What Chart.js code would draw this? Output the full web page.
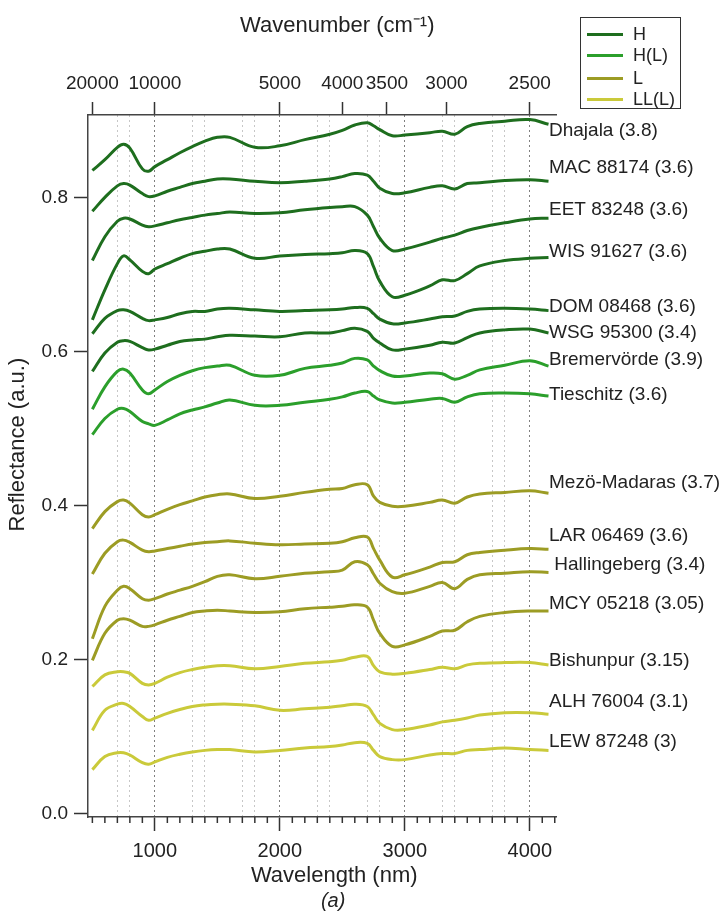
<!DOCTYPE html>
<html>
<head>
<meta charset="utf-8">
<title>Reflectance spectra</title>
<script src="https://cdn.jsdelivr.net/npm/chart.js@4.4.0/dist/chart.umd.min.js"></script>
<style>
  body { margin: 0; background: #fff; }
  #wrap { position: relative; width: 724px; height: 916px; }
  #legend {
    position: absolute; left: 580px; top: 17px; width: 101px; height: 92px;
    border: 1.5px solid #333; box-sizing: border-box; background: #fff;
    font: 18px "Liberation Sans", Arial, sans-serif; color: #222;
  }
  .item { position: absolute; left: 0; height: 22px; line-height: 22px; }
  .item i { position: absolute; left: 6px; top: 10px; width: 36px; height: 3px; }
  .item span { position: absolute; left: 52px; top: 0; white-space: nowrap; }
</style>
</head>
<body>
<div id="wrap">
  <canvas id="spectra" width="724" height="916"></canvas>
  <div id="legend"></div>
</div>
<script>
// wavelengths (nm) at which every spectrum was read
const wl = [500, 600, 700, 750, 800, 900, 950, 1000, 1100, 1200, 1300, 1400, 1500, 1600, 1800, 2000,
  2200, 2400, 2500, 2600, 2700, 2750, 2800, 2900, 3000, 3200, 3300, 3400, 3500, 3600, 3800, 4000, 4150];

// reflectance, top to bottom
const dhajala = [.835,.849,.865,.869,.864,.837,.834,.840,.849,.858,.866,.873,.878,.878,.865,.867,.875,.882,.887,.894,.897,.893,.888,.880,.881,.884,.886,.882,.892,.896,.899,.901,.895];
const mac88174 = [.782,.800,.815,.818,.816,.805,.801,.802,.808,.813,.818,.821,.824,.824,.821,.819,.821,.824,.827,.831,.829,.821,.812,.805,.806,.813,.815,.811,.818,.819,.822,.823,.821];
const eet83248 = [.718,.749,.769,.773,.772,.764,.762,.763,.767,.771,.774,.777,.779,.781,.779,.780,.784,.787,.788,.788,.777,.762,.747,.731,.733,.742,.747,.751,.757,.761,.767,.772,.773];
const wis91627 = [.641,.680,.714,.724,.719,.704,.701,.707,.714,.721,.727,.730,.733,.733,.721,.724,.726,.727,.728,.731,.727,.710,.691,.671,.673,.685,.693,.692,.701,.711,.718,.721,.722];
const dom08468 = [.623,.643,.653,.654,.652,.643,.640,.641,.644,.649,.652,.652,.655,.656,.654,.652,.653,.654,.655,.657,.656,.649,.642,.636,.637,.642,.645,.646,.652,.655,.656,.655,.653];
const wsg95300 = [.574,.598,.612,.614,.613,.605,.602,.603,.608,.613,.615,.616,.619,.621,.620,.619,.624,.624,.627,.630,.626,.617,.611,.602,.603,.608,.612,.611,.618,.624,.628,.629,.624];
const bremervoerde = [.525,.554,.574,.577,.572,.550,.545,.550,.561,.569,.575,.579,.581,.582,.569,.569,.578,.582,.585,.591,.589,.581,.575,.568,.568,.572,.571,.564,.569,.576,.582,.588,.581];
const tieschitz = [.492,.513,.525,.526,.522,.509,.506,.504,.511,.519,.524,.528,.533,.537,.530,.530,.534,.538,.541,.546,.548,.542,.537,.533,.534,.538,.539,.534,.541,.545,.546,.545,.542];
const mezoMadaras = [.370,.392,.405,.407,.403,.388,.385,.388,.395,.401,.406,.411,.414,.415,.409,.412,.417,.421,.422,.427,.427,.412,.404,.399,.399,.404,.407,.403,.411,.415,.417,.419,.416];
const lar06469 = [.311,.338,.353,.355,.352,.342,.340,.341,.344,.347,.350,.352,.353,.354,.351,.349,.350,.351,.353,.358,.359,.344,.329,.307,.310,.320,.326,.327,.336,.339,.342,.344,.343];
const hallingeberg = [.227,.269,.290,.295,.292,.279,.277,.279,.285,.290,.295,.301,.308,.310,.305,.308,.312,.314,.316,.327,.323,.311,.299,.288,.286,.295,.300,.292,.304,.310,.312,.314,.313];
const mcy05218 = [.199,.234,.251,.253,.251,.243,.243,.245,.251,.256,.261,.263,.264,.263,.261,.262,.266,.268,.269,.271,.268,.251,.234,.217,.219,.230,.237,.238,.249,.256,.261,.263,.263];
const bishunpur = [.165,.180,.184,.184,.182,.169,.167,.169,.177,.183,.187,.190,.192,.192,.188,.191,.195,.197,.199,.203,.204,.192,.184,.181,.182,.187,.190,.188,.193,.195,.196,.196,.193];
const alh76004 = [.108,.134,.142,.143,.139,.126,.121,.124,.130,.135,.139,.141,.142,.142,.140,.134,.136,.138,.140,.142,.139,.128,.117,.109,.109,.115,.119,.121,.124,.128,.131,.131,.129];
const lew87248 = [.057,.074,.079,.079,.076,.066,.064,.067,.073,.077,.080,.082,.083,.083,.080,.082,.085,.087,.089,.092,.091,.082,.074,.070,.070,.076,.078,.078,.082,.083,.085,.083,.082];

const series = [dhajala, mac88174, eet83248, wis91627, dom08468, wsg95300, bremervoerde, tieschitz,
  mezoMadaras, lar06469, hallingeberg, mcy05218, bishunpur, alh76004, lew87248];
const names = ['Dhajala (3.8)', 'MAC 88174 (3.6)', 'EET 83248 (3.6)', 'WIS 91627 (3.6)', 'DOM 08468 (3.6)',
  'WSG 95300 (3.4)', 'Bremervörde (3.9)', 'Tieschitz (3.6)', 'Mezö-Madaras (3.7)', 'LAR 06469 (3.6)',
  ' Hallingeberg (3.4)', 'MCY 05218 (3.05)', 'Bishunpur (3.15)', 'ALH 76004 (3.1)', 'LEW 87248 (3)'];
const groups = ['H', 'H', 'H', 'H', 'H', 'H', 'H(L)', 'H(L)', 'L', 'L', 'L', 'L', 'LL(L)', 'LL(L)', 'LL(L)'];
// reflectance level at which each name is written
const labelAt = [.887, .838, .784, .730, .658, .624, .589, .544, .430, .361, .323, .273, .199, .145, .093];

const groupNames = ['H', 'H(L)', 'L', 'LL(L)'];
const groupColors = { 'H': '#1e6e1e', 'H(L)': '#2b9f2b', 'L': '#9c9c24', 'LL(L)': '#caca3a' };

const yTicks = [0, 0.2, 0.4, 0.6, 0.8];
const wnTicks = [20000, 10000, 5000, 4000, 3500, 3000, 2500];   // cm-1
const gridMajor = [1000, 2000, 3000, 4000];
const gridMinor = [700, 800, 1300, 1400, 1700, 1800, 2300, 2400, 2700, 2800, 3300, 3400, 3700, 3800];
const xTickVals = [];
for (let v = 500; v <= 4200; v += 100) xTickVals.push(v);

Chart.defaults.font.family = '"Liberation Sans", Arial, sans-serif';
Chart.defaults.color = '#222';

// legend box
const legend = document.getElementById('legend');
const legendTops = [5, 26, 49, 70];
groupNames.forEach((g, i) => {
  const d = document.createElement('div');
  d.className = 'item';
  d.style.top = legendTops[i] + 'px';
  d.innerHTML = '<i style="background:' + groupColors[g] + '"></i><span>' + g + '</span>';
  legend.appendChild(d);
});

// sample names at the right end of the curves
const curveLabels = {
  id: 'curveLabels',
  afterDatasetsDraw(chart) {
    const { ctx, chartArea, scales } = chart;
    ctx.save();
    ctx.font = '19px "Liberation Sans", Arial, sans-serif';
    ctx.fillStyle = '#222';
    ctx.textBaseline = 'middle';
    names.forEach((n, i) => ctx.fillText(n, chartArea.right - 7, scales.y.getPixelForValue(labelAt[i])));
    ctx.restore();
  }
};

// short ticks every 100 nm on the bottom axis
const minorTicks = {
  id: 'minorTicks',
  afterDraw(chart) {
    const x = chart.scales.x;
    const ctx = chart.ctx;
    ctx.save();
    ctx.strokeStyle = '#333';
    ctx.lineWidth = 1.5;
    x.ticks.forEach(t => {
      if (t.value % 1000 === 0) return;
      const px = x.getPixelForValue(t.value);
      ctx.beginPath();
      ctx.moveTo(px, x.top);
      ctx.lineTo(px, x.top + 6);
      ctx.stroke();
    });
    ctx.restore();
  }
};

const datasets = series.map((s, i) => ({
  label: names[i].trim(),
  data: wl.map((w, j) => ({ x: w, y: s[j] })),
  borderColor: groupColors[groups[i]],
  borderWidth: 3,
  pointRadius: 0,
  fill: false,
  tension: 0.4,
  xAxisID: 'x',
  yAxisID: 'y'
}));

new Chart(document.getElementById('spectra'), {
  type: 'line',
  data: { datasets },
  plugins: [curveLabels, minorTicks],
  options: {
    responsive: false,
    animation: false,
    layout: { padding: { left: 0, right: 168, top: 0, bottom: 0 } },
    plugins: {
      legend: { display: false },
      tooltip: { enabled: false },
      title: {
        display: true, text: '    (a)', position: 'bottom', fullSize: false,
        font: { size: 20, style: 'italic', weight: 'normal' }, color: '#222',
        padding: { top: 0, bottom: 3 }
      }
    },
    scales: {
      x: {
        type: 'linear', position: 'bottom', min: 465, max: 4210,
        afterBuildTicks: s => { s.ticks = xTickVals.map(v => ({ value: v })); },
        afterFit: s => { s.height = 72; },
        ticks: {
          autoSkip: false, maxRotation: 0, padding: 8, font: { size: 20 }, color: '#222',
          callback: v => (v % 1000 === 0 ? String(v) : '')
        },
        grid: {
          lineWidth: 1,
          color: c => {
            const v = c.tick ? c.tick.value : null;
            if (gridMajor.includes(v)) return 'rgba(0,0,0,0.5)';
            if (gridMinor.includes(v)) return 'rgba(0,0,0,0.22)';
            return 'rgba(0,0,0,0)';
          },
          tickLength: 14, tickWidth: 1.5,
          tickColor: c => (c.tick && c.tick.value % 1000 === 0 ? '#333' : 'rgba(0,0,0,0)')
        },
        border: { color: '#444', width: 1.5, dash: [2, 3] },
        title: {
          display: true, text: '    Wavelength (nm)', font: { size: 22 }, color: '#222',
          padding: { top: 0, bottom: 0 }
        }
      },
      x2: {
        type: 'linear', position: 'top', min: 465, max: 4210,
        afterBuildTicks: s => { s.ticks = wnTicks.map(k => ({ value: 1e7 / k })); },
        afterFit: s => { s.height = 115; },
        ticks: {
          autoSkip: false, maxRotation: 0, padding: 7, font: { size: 19 }, color: '#222',
          callback: v => String(Math.round(1e7 / v))
        },
        grid: { drawOnChartArea: false, tickLength: 13, tickWidth: 1.5, tickColor: '#333' },
        border: { color: '#444', width: 1.5 },
        title: {
          display: true, text: '     Wavenumber (cm⁻¹)', font: { size: 22 }, color: '#222',
          padding: { top: 13, bottom: 0 }
        }
      },
      y: {
        min: -0.0045, max: 0.907,
        afterBuildTicks: s => { s.ticks = yTicks.map(v => ({ value: v })); },
        afterFit: s => { s.width = 88; },
        ticks: { padding: 6, font: { size: 19 }, color: '#222', callback: v => v.toFixed(1) },
        grid: { drawOnChartArea: false, tickLength: 14, tickWidth: 1.5, tickColor: '#333' },
        border: { color: '#444', width: 1.5 },
        title: {
          display: true, text: '       Reflectance (a.u.)', font: { size: 22 }, color: '#222',
          padding: { top: 5, bottom: 0 }
        }
      }
    }
  }
});
</script>
</body>
</html>
